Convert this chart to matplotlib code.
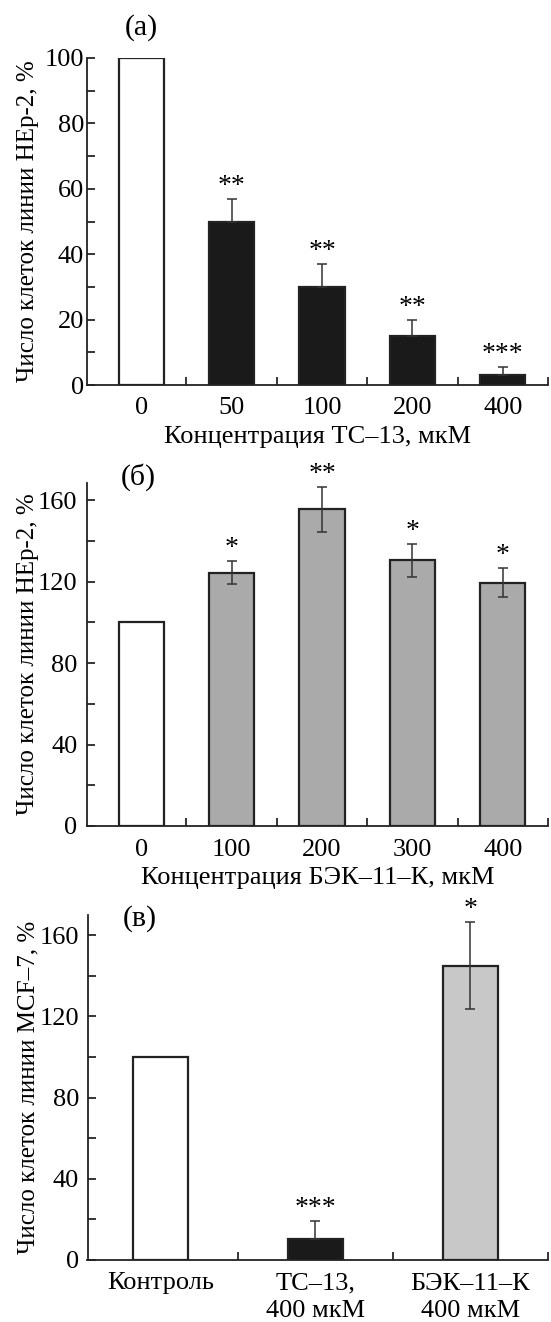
import matplotlib
matplotlib.use('Agg')
import matplotlib.pyplot as plt
from matplotlib.ticker import MultipleLocator, FixedLocator

plt.rcParams['font.family'] = ['Liberation Serif', 'DejaVu Serif']
plt.rcParams['font.size'] = 19

# (а) ТС-13, HEp-2
conc_a = ['0', '50', '100', '200', '400']
vals_a = [100, 50, 30, 15, 3]
err_a = [0, 7, 7, 5, 2.5]
stars_a = ['', '**', '**', '**', '***']

# (б) БЭК-11-К, HEp-2
conc_b = ['0', '100', '200', '300', '400']
vals_b = [100, 124.5, 155.5, 130.5, 119.5]
err_b = [0, 5.5, 11, 8, 7]
stars_b = ['', '*', '**', '*', '*']

# (в) MCF-7
groups_c = ['Контроль', 'ТС–13,\n400 мкМ', 'БЭК–11–К\n400 мкМ']
vals_c = [100, 10.5, 145]
err_c = [0, 8.5, 21.5]
stars_c = ['', '***', '*']

W, H = 551, 1322
fig = plt.figure(figsize=(W / 100, H / 100), dpi=100)

EDGE = '#222222'
ERRC = '#333333'


def px_axes(left, top, right, bottom):
    return fig.add_axes([left / W, 1 - bottom / H, (right - left) / W, (bottom - top) / H])


def style(ax, n, ymax, major, minor, ylabel, ypad):
    ax.set_xlim(-0.6 if n == 5 else -0.47, n - 0.5)
    ax.set_ylim(0, ymax)
    for s in ['top', 'right']:
        ax.spines[s].set_visible(False)
    for s in ['left', 'bottom']:
        ax.spines[s].set_linewidth(1.3)
        ax.spines[s].set_color('#222222')
    ax.set_xticks(range(n))
    ax.xaxis.set_minor_locator(FixedLocator([i + 0.5 for i in range(n)]))
    ax.tick_params(axis='x', which='major', length=0, pad=9)
    ax.tick_params(axis='x', which='minor', direction='in', length=6, width=1.1)
    ax.yaxis.set_major_locator(MultipleLocator(major))
    ax.yaxis.set_minor_locator(MultipleLocator(minor))
    ax.tick_params(axis='y', which='both', direction='in', length=6, width=1.1, pad=ypad)
    ax.set_ylabel(ylabel, fontsize=18)
    ax.yaxis.set_label_coords(-0.104, 0.5)


def draw(ax, labels, vals, errs, stars, colors, width, starpad):
    x = list(range(len(vals)))
    ax.bar(x, vals, width=width, color=colors, edgecolor=EDGE, linewidth=1.6, zorder=2)
    for i, (v, e, c) in enumerate(zip(vals, errs, colors)):
        if e == 0:
            continue
        lower = 0 if c == '#1a1a1a' else e
        ax.errorbar(i, v, yerr=[[lower], [e]], fmt='none', ecolor=ERRC,
                    elinewidth=1.1, capsize=3.5, capthick=1.1, zorder=3)
        ax.annotate(stars[i], (i, v + e), xytext=(0, starpad), textcoords='offset points',
                    ha='center', va='bottom', fontsize=20, annotation_clip=False)
    ax.set_xticklabels(labels)


# panel a
ax1 = px_axes(87, 58, 548, 385)
draw(ax1, conc_a, vals_a, err_a, stars_a,
     ['white'] + ['#1a1a1a'] * 4, 0.5, 0)
style(ax1, 5, 100, 20, 10, 'Число клеток линии HEp-2, %', 2)
ax1.set_xlabel('Концентрация ТС–13, мкМ', fontsize=19, labelpad=5)

# panel b
ax2 = px_axes(87, 483, 548, 826)
draw(ax2, conc_b, vals_b, err_b, stars_b,
     ['white'] + ['#aaaaaa'] * 4, 0.5, 0)
style(ax2, 5, 168.5, 40, 20, 'Число клеток линии HEp-2, %', 7)
ax2.set_xlabel('Концентрация БЭК–11–К, мкМ', fontsize=19, labelpad=5)

# panel c
ax3 = px_axes(87.5, 915, 548, 1260)
draw(ax3, groups_c, vals_c, err_c, stars_c,
     ['white', '#1a1a1a', '#c8c8c8'], 0.35, 0)
style(ax3, 3, 170, 40, 20, 'Число клеток линии MCF–7, %', 6)
for t in ax3.get_xticklabels():
    t.set_linespacing(1.3)

fig.text(141 / W, 1 - 28 / H, '(а)', ha='center', va='center', fontsize=21.5)
fig.text(138 / W, 1 - 477 / H, '(б)', ha='center', va='center', fontsize=21.5)
fig.text(140 / W, 1 - 919 / H, '(в)', ha='center', va='center', fontsize=21.5)

fig.savefig('out.png', dpi=100)
